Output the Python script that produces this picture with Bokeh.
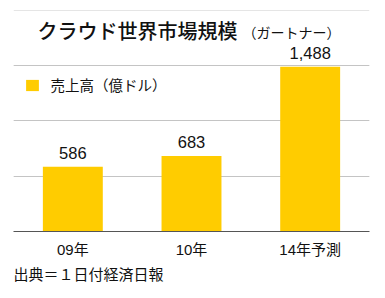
from bokeh.plotting import figure
from bokeh.models import (Range1d, FactorRange, Grid, FixedTicker, Label, Legend,
                          LegendItem, Title, ColumnDataSource)
from bokeh.core.properties import value
from bokeh.embed import file_html
from bokeh.resources import INLINE

categories = ["09年", "10年", "14年予測"]
values = [586, 683, 1488]
grid_ticks = [500, 1000, 1500]
title_main = "クラウド世界市場規模"
title_sub = "（ガートナー）"
legend_label = "売上高（億ドル）"
source_note = "出典＝１日付経済日報"

FONT = "'Liberation Sans', 'Noto Sans CJK JP'"
CJK = "Noto Sans CJK JP"
CJK_MED = "'Noto Sans CJK JP Medium', 'Noto Sans CJK JP'"
BAR = "#FFCC00"

W, H = 385, 298
frame_h = 231
y_end = 1500 * frame_h / 166.0

p = figure(width=W, height=H, x_range=FactorRange(*categories),
           y_range=Range1d(0, y_end), output_backend="svg",
           toolbar_location=None, y_axis_location=None,
           min_border_left=13, min_border_right=16, min_border_top=0,
           min_border_bottom=H - frame_h)
p.outline_line_color = None
p.background_fill_color = "white"
p.border_fill_color = "white"
p.xgrid.visible = False

p.add_layout(Grid(dimension=1, ticker=FixedTicker(ticks=grid_ticks),
                  grid_line_color="#c4c4c4", grid_line_width=1))

src = ColumnDataSource(dict(cat=categories, val=values,
                            txt=[f"{v:,}" for v in values]))
bars = p.vbar(x="cat", top="val", width=0.505, source=src,
              fill_color=BAR, line_color=None)
p.text(x="cat", y="val", text="txt", source=src, text_align="center",
       text_baseline="alphabetic", y_offset=-14, text_font_size="16.5px",
       text_font=value("Liberation Sans"), text_color="#111111")

ax = p.xaxis[0]
ax.axis_line_color = "#555555"
ax.axis_line_width = 1
ax.major_tick_line_color = None
ax.minor_tick_line_color = None
ax.major_tick_out = 0
ax.major_tick_in = 0
ax.major_label_standoff = 9
ax.major_label_text_font = FONT
ax.major_label_text_font_size = "15px"
ax.major_label_text_color = "#111111"

p.add_layout(Label(x=37 - 13, y=frame_h - 29.5, x_units="screen", y_units="screen",
                   text=title_main, text_font=CJK_MED, text_font_size="20px",
                   text_font_style="normal", text_baseline="middle",
                   text_color="#111111"))
p.add_layout(Label(x=242 - 13, y=frame_h - 31, x_units="screen", y_units="screen",
                   text=title_sub, text_font=CJK, text_font_size="14px",
                   text_baseline="middle", text_color="#111111"))

legend = Legend(items=[LegendItem(label=legend_label, renderers=[bars])],
                location=(10.5, frame_h - 95), orientation="vertical",
                glyph_width=16, glyph_height=14, label_standoff=11,
                padding=0, margin=0, spacing=0, label_height=14,
                border_line_color=None, background_fill_alpha=0,
                label_text_font=CJK, label_text_font_size="14.5px",
                label_text_color="#111111")
p.add_layout(legend)

p.add_layout(Title(text=source_note, align="left", text_font=CJK,
                   text_font_size="15px", text_font_style="normal",
                   text_color="#111111", offset=0, standoff=0), "below")

open("out.html", "w").write(file_html(p, INLINE))
